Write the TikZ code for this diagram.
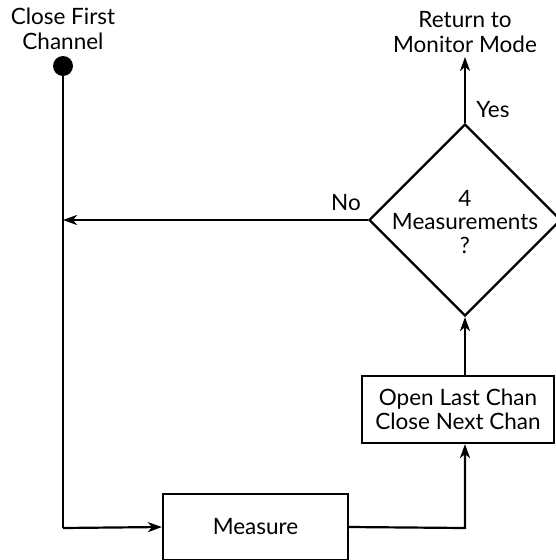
\documentclass[tikz,border=0pt]{standalone}
\usepackage{fontspec}
\setmainfont{Lato}
\usetikzlibrary{arrows.meta,shapes.geometric}
\begin{document}
\begin{tikzpicture}[x=1pt,y=-1pt,
  line width=2.2pt,
  conn/.style={-{Stealth[length=14pt,width=10pt,inset=4pt]}},
  boxnode/.style={draw,rectangle,inner sep=0pt,align=center,font=\fontsize{22.5}{24}\selectfont},
  txt/.style={inner sep=0pt,align=center,font=\fontsize{22.5}{25}\selectfont}]
\useasboundingbox (0,0) rectangle (555,560);
\node[circle,fill=black,minimum size=20pt,inner sep=0pt] (dot) at (63,66) {};
\node[txt] (cfc) at (63,29) {Close First\\Channel};
\node[txt] (ret) at (465,32) {Return to\\Monitor Mode};
\coordinate (retp) at (465,57);
\node[draw,diamond,aspect=1,minimum width=192pt,minimum height=192pt,inner sep=0pt] (dia) at (465,220) {};
\node[txt,font=\fontsize{22.5}{23.5}\selectfont] (dtext) at (465,222) {4\\Measurements\\?};
\node[boxnode,minimum width=192pt,minimum height=67pt] (open) at (458,409.5) {Open Last Chan\\Close Next Chan};
\node[boxnode,minimum width=185pt,minimum height=66pt] (meas) at (255.5,527) {Measure};
\node[txt] (yes) at (493,110) {Yes};
\node[txt] (no) at (346,203) {No};
\coordinate (lft) at (63,220);
\coordinate (bl) at (63,528);
\coordinate (br) at (465,528);
\draw (dot.center) -- (bl);
\draw[conn] (bl) -- (meas.west);
\draw[conn] (meas.east) -- (br) -- (open.south -| br);
\draw[conn] (open.north -| br) -- (dia.south);
\draw[conn] (dia.north) -- (retp);
\draw[conn] (dia.west) -- (lft);
\end{tikzpicture}
\end{document}
